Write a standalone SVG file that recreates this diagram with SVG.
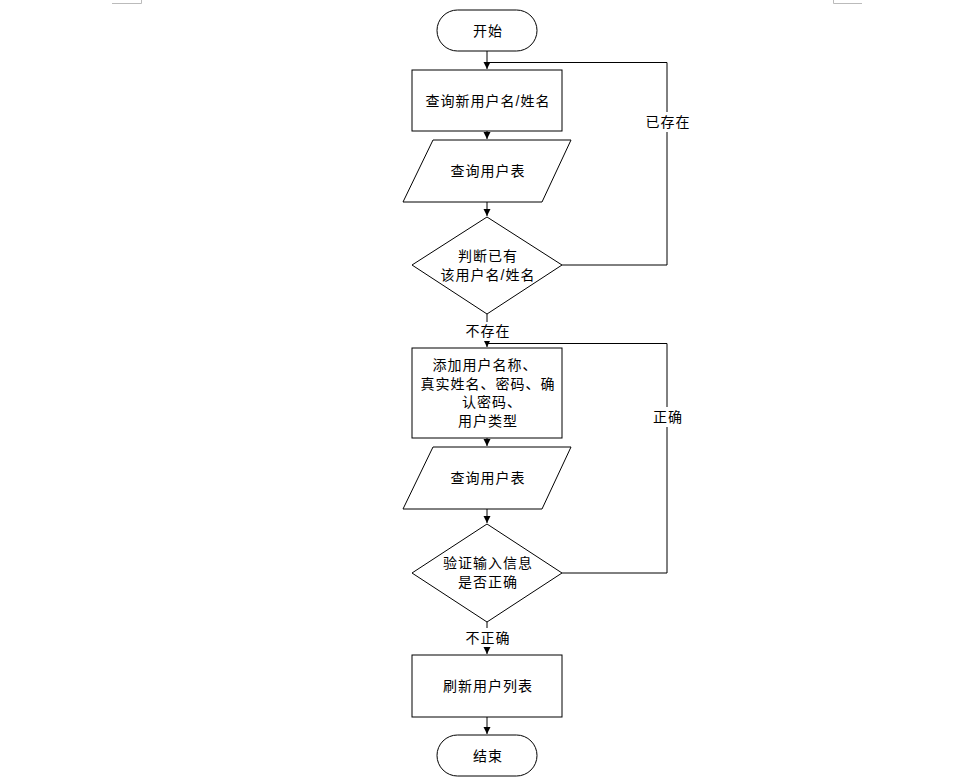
<svg xmlns="http://www.w3.org/2000/svg" width="974" height="780" viewBox="0 0 974 780">
<defs>
<marker id="arr" markerWidth="8" markerHeight="8" refX="7" refY="4" orient="auto" markerUnits="userSpaceOnUse">
<path d="M0,0.5 L7,4 L0,7.5 Z" fill="#000"/>
</marker>
<style>
.shape{fill:#fff;stroke:#000;stroke-width:1}
.t{font-family:"Liberation Sans","Noto Sans CJK SC",sans-serif;font-size:14px;fill:#000;text-anchor:middle;dominant-baseline:central;letter-spacing:1px}
.c{fill:none;stroke:#000;stroke-width:1}
.mark{stroke:#bbb;stroke-width:1;fill:none}
</style>
</defs>
<rect width="974" height="780" fill="#fff"/>
<g id="marks">
<path class="mark" d="M112,3.5 H141.5 V0"/>
<path class="mark" d="M833.5,0 V3.5 H862"/>
</g>
<g id="connectors">
<path class="c" d="M487,51 V69" marker-end="url(#arr)"/>
<path class="c" d="M487,131 V139" marker-end="url(#arr)"/>
<path class="c" d="M487,202 V216" marker-end="url(#arr)"/>
<path class="c" d="M562,265 H667 V62.5 H487"/>
<path class="c" d="M487,314 V347" marker-end="url(#arr)"/>
<path class="c" d="M487,438 V446" marker-end="url(#arr)"/>
<path class="c" d="M487,509 V523" marker-end="url(#arr)"/>
<path class="c" d="M562,573 H667 V343.5 H487"/>
<path class="c" d="M487,622 V654" marker-end="url(#arr)"/>
<path class="c" d="M487,717 V734" marker-end="url(#arr)"/>
<rect x="645" y="112" width="46" height="20" fill="#fff"/>
<text class="t" x="668" y="122">已存在</text>
<rect x="453" y="322" width="70" height="19" fill="#fff"/>
<text class="t" x="488" y="331">不存在</text>
<rect x="651" y="407" width="34" height="20" fill="#fff"/>
<text class="t" x="668" y="417">正确</text>
<rect x="453" y="628" width="70" height="19" fill="#fff"/>
<text class="t" x="488" y="638">不正确</text>
</g>
<g id="start">
<rect class="shape" x="437" y="10" width="100" height="41" rx="20.5"/>
<text class="t" x="488" y="30.5">开始</text>
</g>
<g id="query-name">
<rect class="shape" x="412" y="70" width="150" height="61"/>
<text class="t" x="488" y="100.5">查询新用户名/姓名</text>
</g>
<g id="query-table-1">
<polygon class="shape" points="433,140 571,140 542,202 403,202"/>
<text class="t" x="488" y="171">查询用户表</text>
</g>
<g id="check-exists">
<polygon class="shape" points="487,217 562,265 487,314 412,265"/>
<text class="t" x="488" y="256">判断已有</text>
<text class="t" x="488" y="275">该用户名/姓名</text>
</g>
<g id="add-user">
<rect class="shape" x="412" y="348" width="150" height="90"/>
<text class="t" x="485" y="365">添加用户名称、</text>
<text class="t" x="488" y="383.5">真实姓名、密码、确</text>
<text class="t" x="492" y="402">认密码、</text>
<text class="t" x="488" y="420.5">用户类型</text>
</g>
<g id="query-table-2">
<polygon class="shape" points="433,447 571,447 542,509 403,509"/>
<text class="t" x="488" y="478">查询用户表</text>
</g>
<g id="check-valid">
<polygon class="shape" points="487,524 562,573 487,622 412,573"/>
<text class="t" x="488" y="563">验证输入信息</text>
<text class="t" x="488" y="582">是否正确</text>
</g>
<g id="refresh">
<rect class="shape" x="412" y="655" width="150" height="62"/>
<text class="t" x="488" y="686">刷新用户列表</text>
</g>
<g id="end">
<rect class="shape" x="437" y="735" width="100" height="41" rx="20.5"/>
<text class="t" x="488" y="755.5">结束</text>
</g>
</svg>
